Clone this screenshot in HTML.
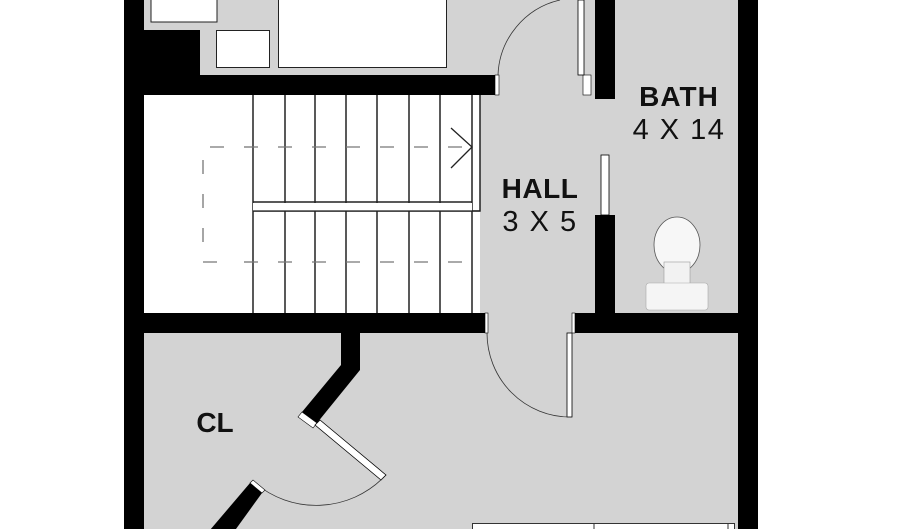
<!DOCTYPE html>
<html><head><meta charset="utf-8"><style>
html,body{margin:0;padding:0;background:#fff;}
svg{display:block}
text{font-family:"Liberation Sans",sans-serif;fill:#111;}
</style></head><body>
<svg width="900" height="529" viewBox="0 0 900 529" xmlns="http://www.w3.org/2000/svg">
<rect width="900" height="529" fill="#fff"/>
<rect x="144" y="0" width="594" height="529" fill="#d3d3d3"/>
<rect x="144" y="95" width="336" height="218" fill="#fff"/>
<rect x="151" y="-2" width="66" height="24" fill="#fff" stroke="#222" stroke-width="1"/>
<rect x="216.5" y="30.5" width="53" height="37" fill="#fff" stroke="#222" stroke-width="1"/>
<rect x="278.5" y="-2" width="168" height="69.5" fill="#fff" stroke="#222" stroke-width="1"/>
<rect x="124" y="0" width="20" height="529" fill="#000"/>
<rect x="124" y="30" width="76" height="65" fill="#000"/>
<rect x="124" y="75" width="371" height="20" fill="#000"/>
<rect x="495" y="75" width="4" height="20" fill="#fff" stroke="#000" stroke-width="0.6"/>
<rect x="738" y="0" width="20" height="529" fill="#000"/>
<rect x="124" y="313" width="361" height="20" fill="#000"/>
<rect x="485" y="313" width="3" height="20" fill="#fff" stroke="#000" stroke-width="0.6"/>
<rect x="575" y="313" width="163" height="20" fill="#000"/>
<rect x="572" y="313" width="3" height="20" fill="#fff" stroke="#000" stroke-width="0.6"/>
<rect x="595" y="0" width="20" height="99" fill="#000"/>
<rect x="583" y="75" width="8" height="20" fill="#fff" stroke="#000" stroke-width="0.6"/>
<rect x="578" y="0" width="6" height="75" fill="#fff" stroke="#000" stroke-width="0.8"/>
<rect x="595" y="215" width="20" height="98" fill="#000"/>
<rect x="601" y="155" width="8" height="60" fill="#fff" stroke="#000" stroke-width="0.8"/>
<path d="M498 75 A80 80 0 0 1 560 0" fill="none" stroke="#333" stroke-width="0.8"/>
<g stroke="#222" stroke-width="1.5" fill="none">
<line x1="253" y1="95" x2="253" y2="313"/><line x1="285" y1="95" x2="285" y2="313"/>
<line x1="315" y1="95" x2="315" y2="313"/><line x1="346" y1="95" x2="346" y2="313"/>
<line x1="377" y1="95" x2="377" y2="313"/><line x1="409" y1="95" x2="409" y2="313"/>
<line x1="440" y1="95" x2="440" y2="313"/><line x1="472" y1="95" x2="472" y2="313"/>
<polyline points="253,211 480,211 480,95"/>
</g>
<rect x="253" y="203" width="219" height="8" fill="#fff"/>
<line x1="253" y1="211" x2="480" y2="211" stroke="#222" stroke-width="1.2"/>
<line x1="253" y1="202" x2="472" y2="202" stroke="#222" stroke-width="1.5"/>
<g stroke="#777" stroke-width="1.3" fill="none" stroke-dasharray="14 20">
<polyline points="224,147 203,147 203,262 224,262"/>
<line x1="244" y1="147" x2="472" y2="147"/>
<line x1="244" y1="262" x2="472" y2="262"/>
</g>
<polyline points="451,128 472,147 451,168" fill="none" stroke="#222" stroke-width="1.3"/>
<rect x="567" y="333" width="5" height="84" fill="#fff" stroke="#000" stroke-width="0.8"/>
<path d="M487 333 A83 84 0 0 0 570 417" fill="none" stroke="#333" stroke-width="0.8"/>
<polygon points="341,333 360,333 360,370 317,423 302,412 341,365" fill="#000"/>
<polygon points="302,412 317,423 313,428 298,417" fill="#fff" stroke="#000" stroke-width="0.6"/>
<polygon points="315,425 320,420 386,475 381,480" fill="#fff" stroke="#000" stroke-width="0.8"/>
<path d="M383 478 A95 95 0 0 1 255 483" fill="none" stroke="#333" stroke-width="0.8"/>
<polygon points="250,483 262,493 228,540 210,530" fill="#000"/>
<polygon points="250,483 253,480 265,490 262,493" fill="#fff" stroke="#000" stroke-width="0.6"/>
<rect x="472.5" y="523.5" width="262" height="10" fill="#fff" stroke="#333" stroke-width="1"/>
<line x1="594" y1="523" x2="594" y2="529" stroke="#333"/>
<line x1="728" y1="523" x2="728" y2="529" stroke="#333"/>
<ellipse cx="677" cy="245" rx="23" ry="28" fill="#f7f7f7" stroke="#555" stroke-width="0.8"/>
<rect x="664" y="262" width="26" height="22" fill="#f2f2f2" stroke="#999" stroke-width="0.6"/>
<rect x="646" y="283" width="62" height="27" rx="3" fill="#f5f5f5" stroke="#aaa" stroke-width="0.6"/>
<text x="679" y="106" font-size="28" font-weight="bold" text-anchor="middle" letter-spacing="1">BATH</text>
<text x="679" y="139" font-size="29" text-anchor="middle" letter-spacing="1.5">4 X 14</text>
<text x="540" y="198" font-size="28" font-weight="bold" text-anchor="middle" letter-spacing="0.5">HALL</text>
<text x="540" y="231" font-size="29" text-anchor="middle" letter-spacing="1.5">3 X 5</text>
<text x="215" y="432" font-size="28" font-weight="bold" text-anchor="middle">CL</text>
</svg>
</body></html>
